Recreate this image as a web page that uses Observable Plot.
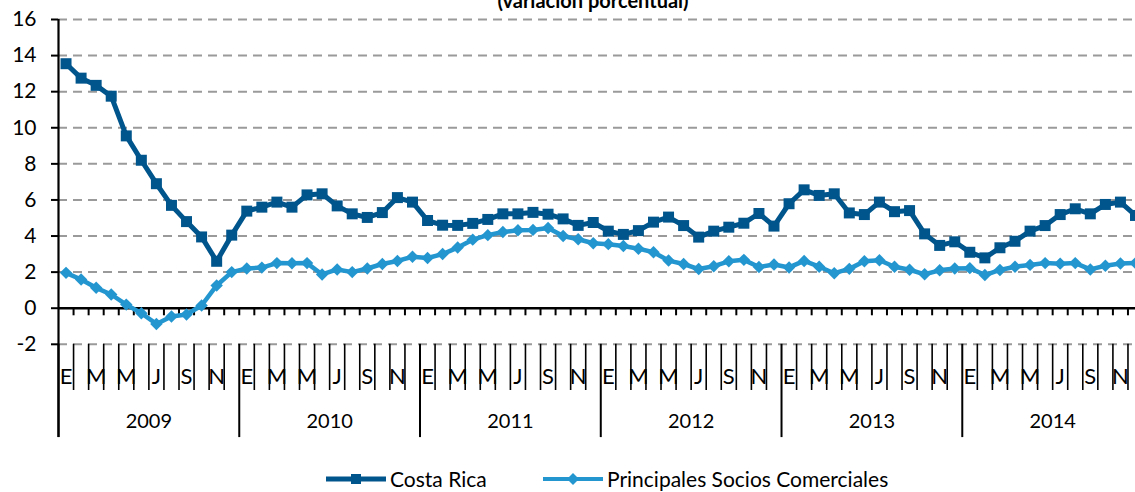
<!DOCTYPE html>
<html>
<head>
<meta charset="utf-8">
<script src="https://cdn.jsdelivr.net/npm/d3@7"></script>
<script src="https://cdn.jsdelivr.net/npm/@observablehq/plot@0.6"></script>
<style>
  html, body { margin: 0; padding: 0; background: #fff; }
  #wrap { position: relative; width: 1135px; height: 492px; overflow: hidden; font-family: Lato, "Open Sans", sans-serif; }
  #title { position: absolute; top: -10px; left: 0; width: 1186px; text-align: center; font-weight: bold; font-size: 20px; line-height: 20px; color: #000; }
  #chart { position: absolute; top: 0; left: 0; }
  .leg { position: absolute; top: 467px; height: 24px; display: flex; align-items: center; font-size: 21px; line-height: 24px; color: #000; }
  .leg svg { margin-right: 4px; }
</style>
</head>
<body>
<div id="wrap">
  <div id="chart"></div>
  <div id="title">(variación porcentual)</div>
  <div class="leg" id="leg1"></div>
  <div class="leg" id="leg2"></div>
</div>
<script>
// ---- data ----
const years = [2009, 2010, 2011, 2012, 2013, 2014];
const monthLetters = ["E", "F", "M", "A", "M", "J", "J", "A", "S", "O", "N", "D"];
const shownMonths = [0, 2, 4, 6, 8, 10];
const yTicks = [-2, 0, 2, 4, 6, 8, 10, 12, 14, 16];
const seriesNames = ["Costa Rica", "Principales Socios Comerciales"];
const costaRica = [
  13.55, 12.75, 12.35, 11.75, 9.55, 8.2, 6.9, 5.7, 4.8, 3.95, 2.6, 4.05,
  5.38, 5.6, 5.88, 5.6, 6.28, 6.34, 5.67, 5.23, 5.03, 5.3, 6.13, 5.88,
  4.86, 4.6, 4.59, 4.7, 4.92, 5.23, 5.23, 5.31, 5.21, 4.95, 4.59, 4.75,
  4.27, 4.09, 4.3, 4.77, 5.05, 4.58, 3.94, 4.27, 4.49, 4.71, 5.25, 4.55,
  5.79, 6.56, 6.25, 6.34, 5.28, 5.19, 5.88, 5.35, 5.41, 4.12, 3.48, 3.68,
  3.1, 2.79, 3.35, 3.71, 4.27, 4.58, 5.19, 5.51, 5.23, 5.75, 5.88, 5.14
];
const socios = [
  1.96, 1.59, 1.13, 0.76, 0.2, -0.28, -0.87, -0.46, -0.35, 0.15, 1.26, 2.0,
  2.2, 2.25, 2.5, 2.49, 2.5, 1.87, 2.15, 2.0, 2.2, 2.45, 2.62, 2.85,
  2.78, 3.0, 3.36, 3.8, 4.05, 4.22, 4.32, 4.34, 4.45, 4.0, 3.82, 3.6,
  3.55, 3.45, 3.3, 3.1, 2.64, 2.45, 2.17, 2.33, 2.6, 2.68, 2.28, 2.42,
  2.26, 2.62, 2.3, 1.94, 2.18, 2.6, 2.66, 2.3, 2.13, 1.88, 2.1, 2.2,
  2.22, 1.84, 2.12, 2.3, 2.4, 2.5, 2.47, 2.5, 2.15, 2.35, 2.48, 2.5
];

// ---- styles ----
const cCR = "#00558C";
const cSC = "#2396D0";
const font = "Lato, 'Open Sans', sans-serif";

// ---- derived tables ----
const nMonths = years.length * 12;
const crData = costaRica.map((v, i) => ({i, v}));
const scData = socios.map((v, i) => ({i, v}));
const boundaries = d3.range(0, nMonths).map(k => k + 0.5);
const monthSeps = d3.range(1, nMonths).filter(k => k % 12 !== 0).map(k => k - 0.5);
const yearSeps = years.map((y, j) => j * 12 - 0.5).concat([nMonths - 0.5]);
const monthLabels = [];
years.forEach((y, j) => shownMonths.forEach(m => monthLabels.push({i: j * 12 + m, t: monthLetters[m]})));
const yearLabels = years.map((y, j) => ({i: j * 12 + 5.5, t: String(y)}));

// axis-area levels expressed in y units (below the plotted range)
const yMonthRowBottom = -4.56;
const yYearRowBottom = -7.17;
const yMonthText = -3.8;
const yYearText = -6.3;
const yZeroTick = -0.42;

const chart = Plot.plot({
  width: 1135,
  height: 460,
  marginLeft: 58,
  marginRight: 0,
  marginTop: 19,
  marginBottom: 116.2,
  style: {fontFamily: font, background: "transparent", overflow: "visible"},
  x: {domain: [-0.5, nMonths - 1], axis: null},
  y: {domain: [-2, 16], axis: null},
  marks: [
    Plot.gridY(yTicks.filter(d => d !== 0), {stroke: "#9a9a9a", strokeOpacity: 1, strokeWidth: 2, strokeDasharray: "9,6"}),
    Plot.axisY({ticks: yTicks, tickFormat: d => String(d), label: null, tickSize: 7, tickPadding: 15, stroke: "#000", strokeWidth: 2, fontSize: 21, fill: "#000"}),
    Plot.ruleX(monthSeps, {y1: -2, y2: yMonthRowBottom, stroke: "#000", strokeWidth: 1.6}),
    Plot.ruleX(yearSeps, {y1: -2, y2: yYearRowBottom, stroke: "#000", strokeWidth: 2}),
    Plot.ruleX([-0.5], {y1: yYearRowBottom, y2: 16, stroke: "#000", strokeWidth: 2.2}),
    Plot.ruleX(boundaries, {y1: 0, y2: yZeroTick, stroke: "#000", strokeWidth: 2}),
    Plot.ruleY([0], {stroke: "#000", strokeWidth: 2.6}),
    Plot.text(monthLabels, {x: "i", y: () => yMonthText, text: "t", fontSize: 22, fill: "#000", lineAnchor: "middle"}),
    Plot.text(yearLabels, {x: "i", y: () => yYearText, text: "t", fontSize: 20, fill: "#000", lineAnchor: "middle"}),
    Plot.line(scData, {x: "i", y: "v", stroke: cSC, strokeWidth: 4.5}),
    Plot.dot(scData, {x: "i", y: "v", symbol: "diamond2", r: 5.6, fill: cSC, stroke: "none"}),
    Plot.line(crData, {x: "i", y: "v", stroke: cCR, strokeWidth: 5}),
    Plot.dot(crData, {x: "i", y: "v", symbol: "square", r: 6.2, fill: cCR, stroke: "none"})
  ]
});
document.getElementById("chart").appendChild(chart);

// legend
function swatch(color, sym) {
  const w = 60, h = 20;
  const marker = sym === "square"
    ? `<rect x="${w/2-5}" y="${h/2-5}" width="10" height="10" fill="${color}"/>`
    : `<path d="M${w/2},${h/2-6}L${w/2+6},${h/2}L${w/2},${h/2+6}L${w/2-6},${h/2}Z" fill="${color}"/>`;
  return `<svg width="${w}" height="${h}"><line x1="0" x2="${w}" y1="${h/2}" y2="${h/2}" stroke="${color}" stroke-width="${sym === "square" ? 5 : 4}" stroke-linecap="round"/>${marker}</svg>`;
}
const l1 = document.getElementById("leg1");
l1.style.left = "326px";
l1.innerHTML = swatch(cCR, "square") + `<span>${seriesNames[0]}</span>`;
const l2 = document.getElementById("leg2");
l2.style.left = "543px";
l2.innerHTML = swatch(cSC, "diamond") + `<span>${seriesNames[1]}</span>`;
</script>
</body>
</html>
